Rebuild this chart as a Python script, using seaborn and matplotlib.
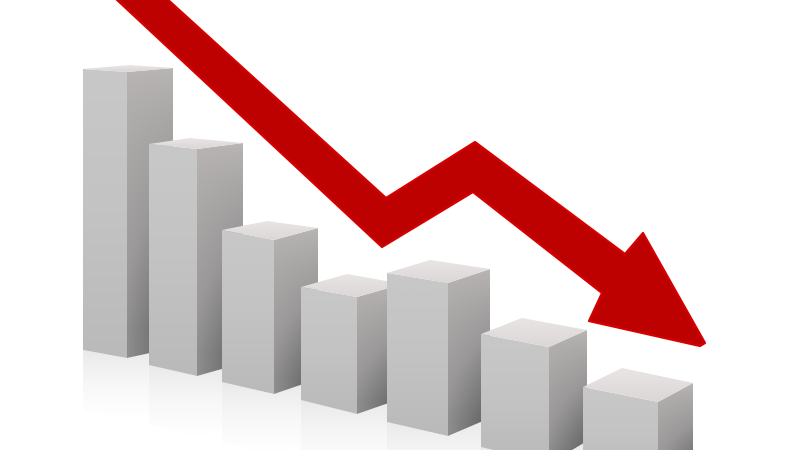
# Falling bars with red arrow

import numpy as np
import matplotlib
matplotlib.use("Agg")
import matplotlib.pyplot as plt
import seaborn as sns
from matplotlib.patches import Polygon

sns.set_style("white")

# Bar corners (pixels)
left_x = [83, 149, 222, 301, 387, 481, 583]
split_x = [127, 197, 274, 357, 448, 549, 658]
right_x = [173, 243, 318, 403, 490, 587, 693]
back_x = [130, 190, 267, 347, 430, 522, 622]

top_left_y = [69, 144, 230, 287, 273, 334, 387]
top_split_y = [72, 149, 240, 297, 283, 347, 402]
top_right_y = [68, 143, 228, 284, 269, 330, 383]
top_back_y = [65, 138, 221, 274, 260, 318, 368]

bottom_left_y = [350, 365, 382, 400, 422, 447, 468]
bottom_split_y = [358, 376, 394, 414, 436, 464, 488]
bottom_right_y = [348, 363, 379, 398, 418, 441, 470]

# Arrow outline
arrow_x = [115, 166, 386, 475, 625, 643, 705, 700, 589, 602, 473, 382, 115]
arrow_y = [-2, -2, 198, 142, 254, 233, 343, 346, 321, 293, 192, 247, -2]

front_cmap = sns.blend_palette(["#c8c8c8", "#c3c3c3", "#bababa"], as_cmap=True)
side_cmap = sns.blend_palette(["#b9b5b5", "#9a9898", "#626262"], as_cmap=True)
top_cmap = sns.blend_palette(["#e9e5e5", "#dcd7d7"], as_cmap=True)
floor_cmap = sns.blend_palette(["#e9e9e9", "#f7f7f7", "#ffffff"], as_cmap=True)

fig = plt.figure(figsize=(8, 4.5), dpi=100)
ax = fig.add_axes([0, 0, 1, 1])


def shaded(ax, xs, ys, values, cmap, z):
    # gradient image clipped to a polygon
    patch = Polygon(np.column_stack([xs, ys]), closed=True, transform=ax.transData,
                    fc="none", ec="none")
    ax.add_patch(patch)
    im = ax.imshow(values, extent=[min(xs), max(xs), max(ys), min(ys)], cmap=cmap,
                   vmin=0, vmax=1, aspect="auto", zorder=z, interpolation="bilinear")
    im.set_clip_path(patch)


t = np.linspace(0, 1, 64)[:, None]
s = np.linspace(0, 1, 32)[None, :]

# floor reflections first
for i in range(len(left_x)):
    xs = [left_x[i], split_x[i], right_x[i], right_x[i], split_x[i], left_x[i]]
    ys = [bottom_left_y[i], bottom_split_y[i], bottom_right_y[i],
          bottom_right_y[i] + 60, bottom_split_y[i] + 60, bottom_left_y[i] + 60]
    shaded(ax, xs, ys, t * np.ones_like(s), floor_cmap, 1 + i * 0.01)

# bars, back to front
for i in range(len(left_x)):
    z = 2 + i
    shaded(ax,
           [left_x[i], split_x[i], split_x[i], left_x[i]],
           [top_left_y[i], top_split_y[i], bottom_split_y[i], bottom_left_y[i]],
           t * np.ones_like(s), front_cmap, z)
    shade = np.clip(t * 1.1, 0, 1) ** 0.8 * (0.6 + 0.4 * s)
    shaded(ax,
           [split_x[i], right_x[i], right_x[i], split_x[i]],
           [top_split_y[i], top_right_y[i], bottom_right_y[i], bottom_split_y[i]],
           shade, side_cmap, z)
    shaded(ax,
           [left_x[i], back_x[i], right_x[i], split_x[i]],
           [top_left_y[i], top_back_y[i], top_right_y[i], top_split_y[i]],
           t * np.ones_like(s), top_cmap, z + 0.1)

# arrow
ax.fill(arrow_x, arrow_y, color="#bd0000", lw=0, zorder=20)
sns.lineplot(x=arrow_x, y=arrow_y, sort=False, estimator=None, color="#d60000",
             lw=1.6, ax=ax, zorder=21)

ax.set_xlim(0, 800)
ax.set_ylim(450, 0)
ax.axis("off")

fig.savefig("out.png", dpi=100, facecolor="white")
